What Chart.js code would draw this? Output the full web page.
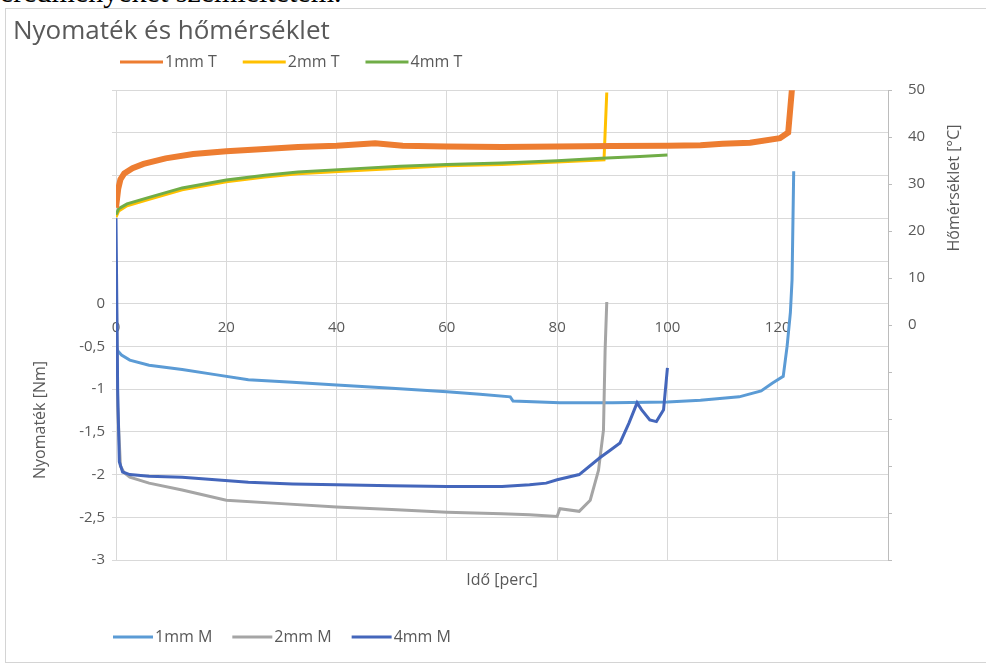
<!DOCTYPE html>
<html lang="hu">
<head>
<meta charset="utf-8">
<title>Nyomaték és hőmérséklet</title>
<script src="https://cdn.jsdelivr.net/npm/chart.js@4.4.1/dist/chart.umd.min.js"></script>
<style>
    html, body { margin: 0; padding: 0; background: #fff; overflow: hidden; }
    #page { position: relative; width: 986px; height: 664px; overflow: hidden; }
    #lead {
        position: absolute; left: 0px; top: -25px; margin: 0;
        font: 30px "Liberation Serif", "DejaVu Serif", serif; color: #000; white-space: nowrap;
    }
    #frame {
        position: absolute; left: 5px; top: 8px; width: 1000px; height: 653px;
        border: 1px solid #d4d4d4; background: #fff;
    }
    #chart { position: absolute; left: 0; top: 0; }
</style>
</head>
<body>
<div id="page">
    <p id="lead">eredményeket szemléltetem.</p>
    <div id="frame"></div>
    <canvas id="chart" width="986" height="664"></canvas>
</div>
<script>
/* === DATA (idő percben, hőmérséklet °C, nyomaték Nm) === */
const t1T = [0, 0.4, 0.8, 1.5, 3, 5, 9, 14, 20, 27, 33, 40, 47, 52, 60, 70, 80, 90, 100, 106, 110, 115, 120.4, 121.9, 122.6];
const v1T = [25, 29, 31, 32.3, 33.4, 34.3, 35.5, 36.4, 37.0, 37.5, 37.9, 38.2, 38.7, 38.2, 38.0, 37.9, 38.0, 38.1, 38.2, 38.3, 38.6, 38.8, 39.8, 41, 50.5];

const t2T = [0, 0.5, 2, 6, 12, 20, 27, 33, 42, 51.5, 60, 70, 80, 88.5, 89];
const v2T = [23, 24.3, 25.4, 26.8, 28.8, 30.5, 31.5, 32.2, 32.8, 33.4, 33.9, 34.2, 34.7, 35.2, 49.5];

const t4T = [0, 0.5, 2, 6, 12, 20, 27, 33, 42, 51.5, 60, 70, 80, 88, 95, 100];
const v4T = [23.5, 24.8, 25.8, 27.2, 29.2, 30.9, 31.9, 32.6, 33.2, 33.8, 34.2, 34.5, 35.0, 35.5, 35.9, 36.2];

const t1M = [0, 0.3, 1, 2.5, 6, 12, 18, 24, 32, 40, 50, 60, 66, 71.5, 72, 80.5, 90, 100, 106, 113, 117, 119, 121, 121.7, 122.3, 122.6, 122.9];
const v1M = [-0.5, -0.55, -0.6, -0.66, -0.72, -0.77, -0.83, -0.89, -0.92, -0.95, -0.99, -1.03, -1.06, -1.09, -1.14, -1.16, -1.16, -1.15, -1.13, -1.09, -1.02, -0.93, -0.85, -0.5, -0.1, 0.28, 1.55];

const t2M = [0, 0.3, 0.8, 1.5, 2.5, 6, 12, 20, 30, 40, 50, 60, 70, 75, 80, 80.5, 84, 86, 87.5, 88.4, 88.7, 89];
const v2M = [0.5, -1.2, -1.9, -1.98, -2.03, -2.1, -2.18, -2.3, -2.34, -2.38, -2.41, -2.44, -2.46, -2.47, -2.49, -2.4, -2.43, -2.3, -1.95, -1.48, -0.54, 0.02];

const t4M = [0, 0.3, 0.6, 1.2, 2.5, 6, 12, 18, 24, 32, 40, 50, 60, 70, 75, 78, 80, 84, 87.8, 89.5, 91.4, 93, 94.5, 95.3, 96.8, 98, 99.3, 100];
const v4M = [1.0, -1.0, -1.85, -1.97, -2.0, -2.02, -2.03, -2.06, -2.09, -2.11, -2.12, -2.13, -2.14, -2.14, -2.12, -2.1, -2.06, -2.0, -1.8, -1.72, -1.63, -1.4, -1.16, -1.24, -1.36, -1.38, -1.24, -0.75];

const topLegend = ['1mm T', '2mm T', '4mm T'];
const bottomLegend = ['1mm M', '2mm M', '4mm M'];

const TEXT = '#595959';
const GRID = '#d9d9d9';
const FONT = '"Open Sans"';

document.addEventListener('DOMContentLoaded', function() {
    initChart();
});

function pts(ts, vs) {
    return ts.map((t, i) => ({ x: t, y: vs[i] }));
}

function series(label, ts, vs, color, axis, width, order) {
    return {
        label: label,
        data: pts(ts, vs),
        borderColor: color,
        backgroundColor: color,
        borderWidth: width,
        pointRadius: 0,
        tension: 0,
        yAxisID: axis,
        order: order
    };
}

/* === legend rows + rotated axis titles === */
const extraText = {
    id: 'extraText',
    afterDraw(chart, args, opts) {
        const ctx = chart.ctx;
        const colors = {};
        chart.data.datasets.forEach(d => { colors[d.label] = d.borderColor; });
        ctx.save();
        ctx.font = '16px ' + FONT;
        ctx.textBaseline = 'middle';
        ctx.fillStyle = TEXT;

        opts.rows.forEach(row => {
            let x = row.x;
            row.labels.forEach(lbl => {
                ctx.strokeStyle = colors[lbl];
                ctx.lineWidth = 3;
                ctx.beginPath();
                ctx.moveTo(x, row.y);
                ctx.lineTo(x + row.line, row.y);
                ctx.stroke();
                ctx.textAlign = 'left';
                ctx.fillText(lbl, x + row.line + 2, row.y);
                x += row.line + 2 + ctx.measureText(lbl).width + row.gap;
            });
        });

        opts.titles.forEach(tt => {
            ctx.save();
            ctx.translate(tt.x, tt.y);
            ctx.rotate(-Math.PI / 2);
            ctx.textAlign = 'center';
            ctx.fillText(tt.text, 0, 0);
            ctx.restore();
        });
        ctx.restore();
    }
};

/* === CHART === */
function initChart() {
    const el = document.getElementById('chart');

    new Chart(el, {
        type: 'line',
        data: {
            datasets: [
                series('1mm T', t1T, v1T, '#ED7D31', 'yT', 6, 3),
                series('2mm T', t2T, v2T, '#FFC000', 'yT', 3, 5),
                series('4mm T', t4T, v4T, '#70AD47', 'yT', 3, 4),
                series('1mm M', t1M, v1M, '#5B9BD5', 'y', 3, 2),
                series('2mm M', t2M, v2M, '#A5A5A5', 'y', 3, 1),
                series('4mm M', t4M, v4M, '#4466BB', 'y', 3, 0)
            ]
        },
        options: {
            responsive: false,
            animation: false,
            layout: { padding: { left: 13, right: 0, top: 0, bottom: 0 } },
            plugins: {
                legend: { display: false },
                tooltip: { enabled: false },
                title: {
                    display: true,
                    text: 'Nyomaték és hőmérséklet',
                    align: 'start',
                    color: TEXT,
                    font: { family: FONT, size: 26, weight: 'normal', lineHeight: 1.2 },
                    padding: { top: 16, bottom: 43 }
                },
                extraText: {
                    rows: [
                        { labels: topLegend, x: 120, y: 62, line: 43, gap: 26 },
                        { labels: bottomLegend, x: 113, y: 637, line: 40, gap: 20 }
                    ],
                    titles: [
                        { text: 'Nyomaték [Nm]', x: 40, y: 420 },
                        { text: 'Hőmérséklet [°C]', x: 954, y: 188 }
                    ]
                }
            },
            scales: {
                x: {
                    type: 'linear', min: 0, max: 140, position: 'bottom',
                    ticks: { display: false, stepSize: 20 },
                    grid: { color: GRID, drawTicks: false },
                    border: { display: false },
                    title: {
                        display: true, text: 'Idő [perc]', color: TEXT,
                        font: { family: FONT, size: 16 }, padding: { top: 0, bottom: 74 }
                    },
                    afterFit: s => { s.height = 104; }
                },
                xLab: {
                    type: 'linear', min: 0, max: 140, position: { yT: 0 },
                    grid: { display: false },
                    border: { display: false },
                    ticks: {
                        stepSize: 20, color: TEXT, padding: -14,
                        font: { family: FONT, size: 15 },
                        callback: v => v === 140 ? '' : v
                    }
                },
                y: {
                    min: -3, max: 2.5, position: 'left',
                    grid: { color: GRID, tickLength: 4 },
                    border: { display: false },
                    ticks: {
                        stepSize: 0.5, color: TEXT, padding: 7,
                        font: { family: FONT, size: 15 },
                        callback: v => v > 0 ? '' : String(v).replace('.', ',')
                    },
                    afterFit: s => { s.width = 103; }
                },
                yT: {
                    min: -50, max: 50, position: 'right',
                    grid: { drawOnChartArea: false, tickLength: 4, color: '#bcbcbc' },
                    border: { color: '#bcbcbc' },
                    ticks: {
                        stepSize: 10, color: TEXT, padding: 16,
                        font: { family: FONT, size: 15 },
                        callback: v => v < 0 ? '' : v
                    },
                    afterFit: s => { s.width = 98; }
                }
            }
        },
        plugins: [extraText]
    });
}
</script>
</body>
</html>
